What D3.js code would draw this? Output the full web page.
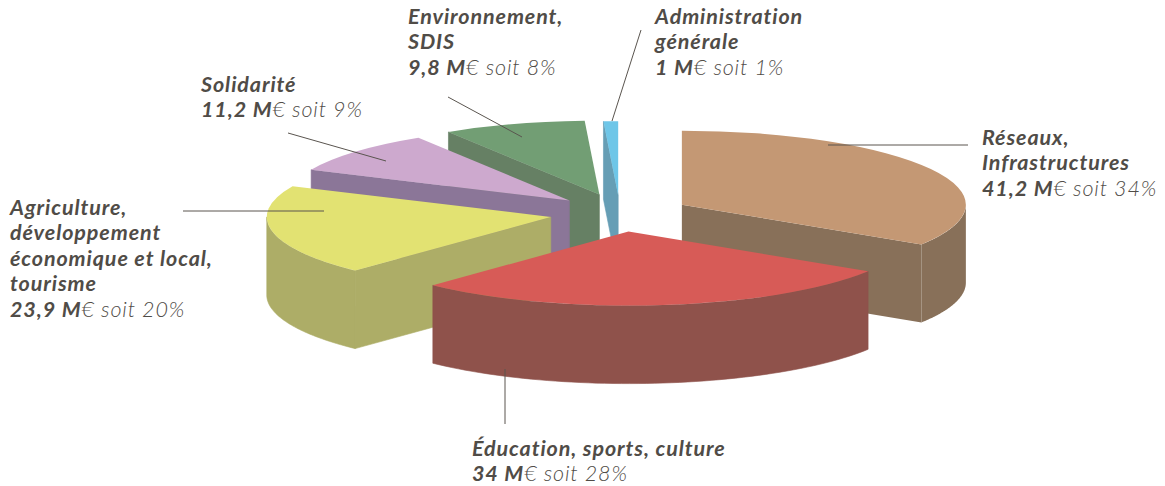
<!DOCTYPE html>
<html lang="fr">
<head>
<meta charset="utf-8">
<style>
html,body{margin:0;padding:0;background:#fff}
svg{display:block}
text{font-family:Lato,"Open Sans",sans-serif;font-style:italic;font-size:21.5px;fill:#504c47}
.name,.amount{font-weight:700;letter-spacing:.9px}
.unit,.share{font-weight:300;fill:#504c47;letter-spacing:.85px}
</style>
</head>
<body>
<svg id="chart" width="1165" height="486"></svg>
<script src="https://cdn.jsdelivr.net/npm/d3@7"></script>
<script>
const categories = ["Réseaux, Infrastructures","Éducation, sports, culture","Agriculture, développement économique et local, tourisme","Solidarité","Environnement, SDIS","Administration générale"];
const values = [41.2,34,23.9,11.2,9.8,1];
const valueLabels = ["41,2","34","23,9","11,2","9,8","1"];
const shareLabels = ["34%","28%","20%","9%","8%","1%"];
const nameLines = [
  ["Réseaux,","Infrastructures"],
  ["Éducation, sports, culture"],
  ["Agriculture,","développement","économique et local,","tourisme"],
  ["Solidarité"],
  ["Environnement,","SDIS"],
  ["Administration","générale"]
];
const topColors  = ["#c49874","#d75b57","#e2e272","#cda9ce","#729e74","#6ec6e8"];
const sideColors = ["#887059","#8f524b","#adad67","#8b7698","#668064","#669eb5"];

// layout
const cx = 620, cy = 213.5, rx = 284, ry = 74, depth = 78, explode = 70;
const sliceNudge = [[0.5,0],[0,0],[-0.5,0],[2,-1],[0.5,-1.5],[0,0]];
const openSeam = [true,false,false,false,false,false];
const paintOrder = [5,4,3,2,0,1];
const labelAnchors = [[982,145],[472,456],[10,215],[201,92],[408,24],[655,24]];
const leaders = [
  [[828,145],[968,145]],
  [[505,369],[505,424]],
  [[183,211],[324,211]],
  [[288,133],[386,161]],
  [[448,97],[522,137]],
  [[641,30],[612,121]]
];
const lineGap = 25.4;

const svg = d3.select("#chart");
const arcs = d3.pie().sort(null).value(d=>d)(values);
const k = ry/rx;
const topArc = d3.arc().innerRadius(0).outerRadius(rx);
const px = a => rx*Math.sin(a), py = a => -ry*Math.cos(a);
const wall = d3.area().x(px).y0(py).y1(a=>py(a)+depth);
const line = d3.line();

const root = svg.append("g");
paintOrder.forEach(i=>{
  const d = arcs[i], mid = (d.startAngle+d.endAngle)/2;
  const g = root.append("g").attr("class","slice")
    .attr("transform",`translate(${cx+explode*Math.sin(mid)+sliceNudge[i][0]},${cy-explode*k*Math.cos(mid)+sliceNudge[i][1]})`);
  const side = p => p.attr("fill",sideColors[i])
    .attr("stroke",openSeam[i]?"none":sideColors[i]).attr("stroke-width",0.6);
  const cut = a => line([[0,0],[px(a),py(a)],[px(a),py(a)+depth],[0,depth]])+"Z";
  // cut faces seen from the front
  if (Math.sin(d.endAngle) > 1e-6) g.append("path").attr("d",cut(d.endAngle)).call(side);
  if (Math.sin(d.startAngle) < -1e-6) g.append("path").attr("d",cut(d.startAngle)).call(side);
  // outer wall on the front half
  const a0 = Math.max(d.startAngle,Math.PI/2), a1 = Math.min(d.endAngle,3*Math.PI/2);
  if (a1 > a0) {
    const n = 60, angles = d3.range(n+1).map(j=>a0+(a1-a0)*j/n);
    g.append("path").attr("d",wall(angles)).call(side);
  }
  g.append("path").attr("transform",`scale(1,${k})`).attr("d",topArc(d)).attr("fill",topColors[i]);
});

svg.append("g").selectAll("path").data(leaders).join("path")
  .attr("d",d=>line(d)).attr("fill","none").attr("stroke","#5a554f").attr("stroke-width",1);

categories.forEach((c,i)=>{
  const [x,y] = labelAnchors[i];
  const t = svg.append("text").attr("x",x).attr("y",y).attr("aria-label",c);
  nameLines[i].forEach((l,j)=>{
    t.append("tspan").attr("class","name").attr("x",x).attr("y",y+j*lineGap).text(l);
  });
  const yv = y+nameLines[i].length*lineGap;
  t.append("tspan").attr("class","amount").attr("x",x).attr("y",yv).text(valueLabels[i]+" M");
  t.append("tspan").attr("class","unit").text("€");
  t.append("tspan").attr("class","share").text(" soit "+shareLabels[i]);
});
</script>
</body>
</html>
